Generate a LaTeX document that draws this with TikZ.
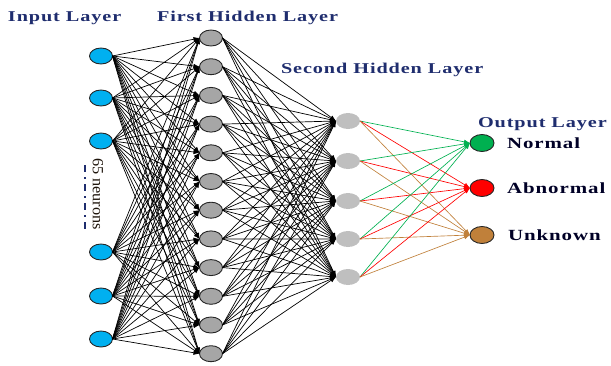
\documentclass[tikz,border=0pt]{standalone}
\usepackage{fontspec}
\setmainfont{Liberation Serif}
\newfontfamily\widefont[FakeStretch=1.35,LetterSpace=6]{Liberation Serif}
\newfontfamily\notefont[FakeStretch=1.05]{Liberation Serif}
\usetikzlibrary{positioning}
\usetikzlibrary{shapes.geometric,arrows.meta}

\definecolor{titleblue}{HTML}{1F2D6E}
\definecolor{incyan}{HTML}{00B0F0}
\definecolor{hidgray}{HTML}{A6A6A6}
\definecolor{hidlight}{HTML}{BFBFBF}
\definecolor{outgreen}{HTML}{00B050}
\definecolor{outred}{HTML}{FF0000}
\definecolor{outbrown}{HTML}{C0803A}

\begin{document}
\begin{tikzpicture}[
    x=1pt, y=-1pt,
    every node/.style={
        inner sep=0pt,
        outer sep=0pt,
    },
    neuron/.style={
        ellipse,
        fill=#1,
        draw=black!85,
        line width=.9pt,
        minimum width=23pt,
        minimum height=16pt,
    },
    ghost/.style={
        ellipse,
        fill=hidlight,
        minimum width=24pt,
        minimum height=16pt,
    },
    layername/.style={
        anchor=base west,
        text=titleblue,
        font=\widefont\bfseries\fontsize{15}{17}\selectfont,
    },
    classname/.style={
        text=black!85!blue,
        font=\widefont\bfseries\fontsize{15.5}{18}\selectfont,
    },
    link/.style={
        draw=black,
        line width=.7pt,
        -{Latex[length=6pt,width=4.5pt]},
    },
    clink/.style={
        draw=#1,
        line width=.65pt,
        -{Latex[length=6pt,width=4.5pt]},
    },
]
    \useasboundingbox (0,0) rectangle (611,365);

    % ~~~ neurons ~~~~~~~~~~~~~~~~~~~~~~~~~~~~~~~~~~~~~~~~~~~~~~
    \foreach \y [count=\i] in {56,98,141,252,296,339}{
        \node[neuron=incyan] (in\i) at (101,\y) {};
    }
    \foreach \i in {1,...,12}{
        \node[neuron=hidgray] (ha\i) at (211,{38+(\i-1)*28.7}) {};
    }
    \foreach \y [count=\i] in {121,161,201,239,277}{
        \node[ghost] (hb\i) at (348,\y) {};
    }
    \node[neuron=outgreen, minimum width=24pt, minimum height=17pt] (o1) at (482,143) {};
    \node[neuron=outred,   minimum width=24pt, minimum height=17pt] (o2) at (482,188) {};
    \node[neuron=outbrown, minimum width=24pt, minimum height=17pt] (o3) at (482,235) {};

    % ~~~ connections ~~~~~~~~~~~~~~~~~~~~~~~~~~~~~~~~~~~~~~~~~~
    \foreach \i in {1,...,6}{
        \foreach \j in {1,...,12}{
            \draw[link] (in\i.east) -- (ha\j.west);
        }
    }
    \foreach \i in {1,...,12}{
        \foreach \j in {1,...,5}{
            \draw[link] (ha\i.east) -- (hb\j.west);
        }
    }
    \foreach \i in {1,...,5}{
        \foreach \j/\c in {1/outgreen,2/outred,3/outbrown}{
            \draw[clink=\c] (hb\i.east) -- (o\j.west);
        }
    }

    % ~~~ texts ~~~~~~~~~~~~~~~~~~~~~~~~~~~~~~~~~~~~~~~~~~~~~~~~
    \node[layername] (tin)  at (8,21)    {Input Layer};
    \node[layername] (tha)  at (157,21)  {First Hidden Layer};
    \node[layername] (thb)  at (281,73)  {Second Hidden Layer};
    \node[layername] (tout) at (478,127) {Output Layer};

    \node[classname, right=13pt of o1] (cn) {Normal};
    \node[classname, right=13pt of o2] (ca) {Abnormal};
    \node[classname, right=14pt of o3] (cu) {Unknown};

    \node[rotate=-90, text=black!85!brown,
          font=\notefont\fontsize{15.5}{17}\selectfont] (count) at (98,194) {65 neurons};
    \draw[titleblue, line width=1.4pt,
          dash pattern=on 7pt off 5pt on 2pt off 5pt] (85,165) -- (85,229);
\end{tikzpicture}
\end{document}
